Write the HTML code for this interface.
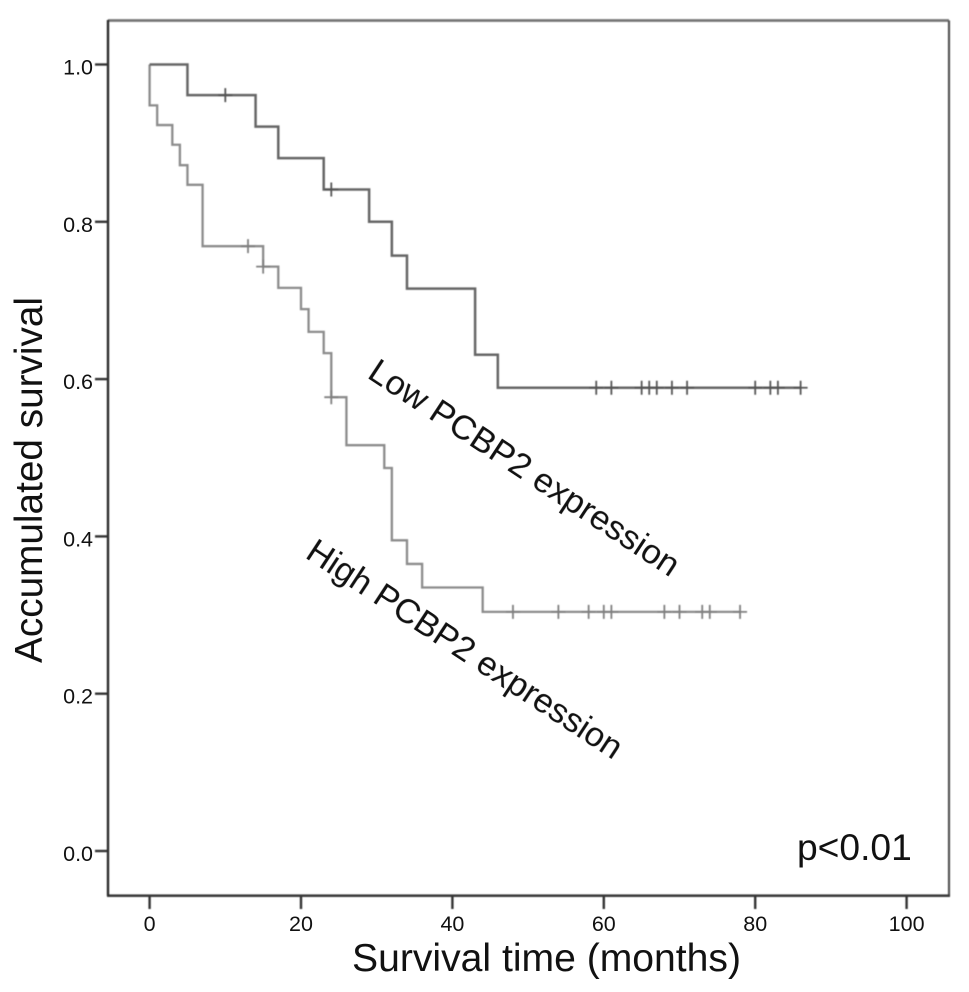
<!DOCTYPE html>
<html>
<head>
<meta charset="utf-8">
<title>Survival chart</title>
<style>
html,body{margin:0;padding:0;background:#fff;width:969px;height:992px;overflow:hidden}
svg{display:block}
text{font-family:"Liberation Sans",Arial,sans-serif;fill:#111;filter:blur(0.25px)}
</style>
</head>
<body>
<svg id="chart" xmlns="http://www.w3.org/2000/svg" width="969" height="992" viewBox="0 0 969 992">
<rect width="969" height="992" fill="#fff"/>
<g id="marks" style="filter:blur(0.4px)"></g>
<text transform="translate(42,663) rotate(-90)" font-size="38.8" textLength="366" lengthAdjust="spacingAndGlyphs">Accumulated survival</text>
<text x="352" y="971" font-size="39" textLength="389" lengthAdjust="spacingAndGlyphs">Survival time (months)</text>
<text transform="translate(366,377) rotate(33.4)" font-size="34.7">Low PCBP2 expression</text>
<text transform="translate(304,557) rotate(33.3)" font-size="34.5">High PCBP2 expression</text>
<text x="797" y="860" font-size="37.2">p&lt;0.01</text>
</svg>
<script>
var xTickValues = [0, 20, 40, 60, 80, 100];
var yTickValues = [0.0, 0.2, 0.4, 0.6, 0.8, 1.0];

var lowTimes = [0, 5, 14, 17, 23, 29, 32, 34, 43, 46, 86];
var lowSurvival = [1.0, 0.961, 0.921, 0.881, 0.841, 0.80, 0.757, 0.715, 0.631, 0.589, 0.589];
var lowCensored = [10, 24, 59, 61, 65, 66, 67, 69, 71, 80, 82, 83, 86];

var highTimes = [0, 0, 1, 3, 4, 5, 7, 15, 17, 20, 21, 23, 24, 26, 31, 32, 34, 36, 44, 78];
var highSurvival = [1.0, 0.948, 0.923, 0.898, 0.872, 0.847, 0.769, 0.743, 0.716, 0.689, 0.66, 0.633, 0.577, 0.516, 0.487, 0.395, 0.365, 0.335, 0.304, 0.304];
var highCensored = [13, 15, 24, 48, 54, 58, 60, 61, 68, 70, 73, 74, 78];

var NS = 'http://www.w3.org/2000/svg';
var marks = document.getElementById('marks');
function sx(t){ return 149.6 + t * 7.57; }
function sy(s){ return 851 - s * 786.5; }

function add(tag, attrs, parent){
  var el = document.createElementNS(NS, tag);
  for (var k in attrs) el.setAttribute(k, attrs[k]);
  (parent || marks).appendChild(el);
  return el;
}

var frameTop = add('line', {x1:108, x2:949, y1:20.5, y2:20.5, stroke:'#777', 'stroke-width':2.8});


var frameRight = add('line', {x1:949, x2:949, y1:20.5, y2:896, stroke:'#555', 'stroke-width':2.2});


var frameBottom = add('line', {x1:107, x2:950, y1:895.7, y2:895.7, stroke:'#3c3c3c', 'stroke-width':2.6});


var frameLeft = add('line', {x1:108, x2:108, y1:20, y2:896, stroke:'#2c2c2c', 'stroke-width':2.4});



xTickValues.forEach(function(v){
  var t = add('line', {x1:sx(v), x2:sx(v), y1:896, y2:909, stroke:'#333', 'stroke-width':2.4});
  
  
  var l = add('text', {x:sx(v), y:931, 'font-size':21.5, 'text-anchor':'middle'}, document.getElementById('chart'));
  l.textContent = String(v);
  
  
});

yTickValues.forEach(function(v){
  var t = add('line', {x1:95, x2:108, y1:sy(v), y2:sy(v), stroke:'#333', 'stroke-width':2.4});
  
  
  var l = add('text', {x:93, y:sy(v) + 10, 'font-size':21.5, 'text-anchor':'end'}, document.getElementById('chart'));
  l.textContent = v.toFixed(1);
  
  
});

function stepPath(times, surv){
  var d = 'M' + sx(times[0]) + ' ' + sy(surv[0]);
  for (var i = 1; i < times.length; i++){
    d += 'H' + sx(times[i]) + 'V' + sy(surv[i]);
  }
  return d;
}
function survivalAt(times, surv, t){
  var s = surv[0];
  for (var i = 0; i < times.length; i++){ if (times[i] <= t) s = surv[i]; }
  return s;
}

// High curve
var highLine = add('path', {d:stepPath(highTimes, highSurvival), fill:'none', stroke:'#8c8c8c', 'stroke-width':2.3});


highCensored.forEach(function(t){
  var x = sx(t), y = sy(survivalAt(highTimes, highSurvival, t));
  var c = add('path', {d:'M' + (x-7) + ' ' + y + 'H' + (x+7) + 'M' + x + ' ' + (y-7) + 'V' + (y+7), fill:'none', stroke:'#808080', 'stroke-width':1.8});
  
  
});

// Low curve
var lowLine = add('path', {d:stepPath(lowTimes, lowSurvival), fill:'none', stroke:'#666', 'stroke-width':2.5});


lowCensored.forEach(function(t){
  var x = sx(t), y = sy(survivalAt(lowTimes, lowSurvival, t));
  var c = add('path', {d:'M' + (x-7) + ' ' + y + 'H' + (x+7) + 'M' + x + ' ' + (y-7) + 'V' + (y+7), fill:'none', stroke:'#555', 'stroke-width':1.8});
  
  
});
</script>
</body>
</html>
